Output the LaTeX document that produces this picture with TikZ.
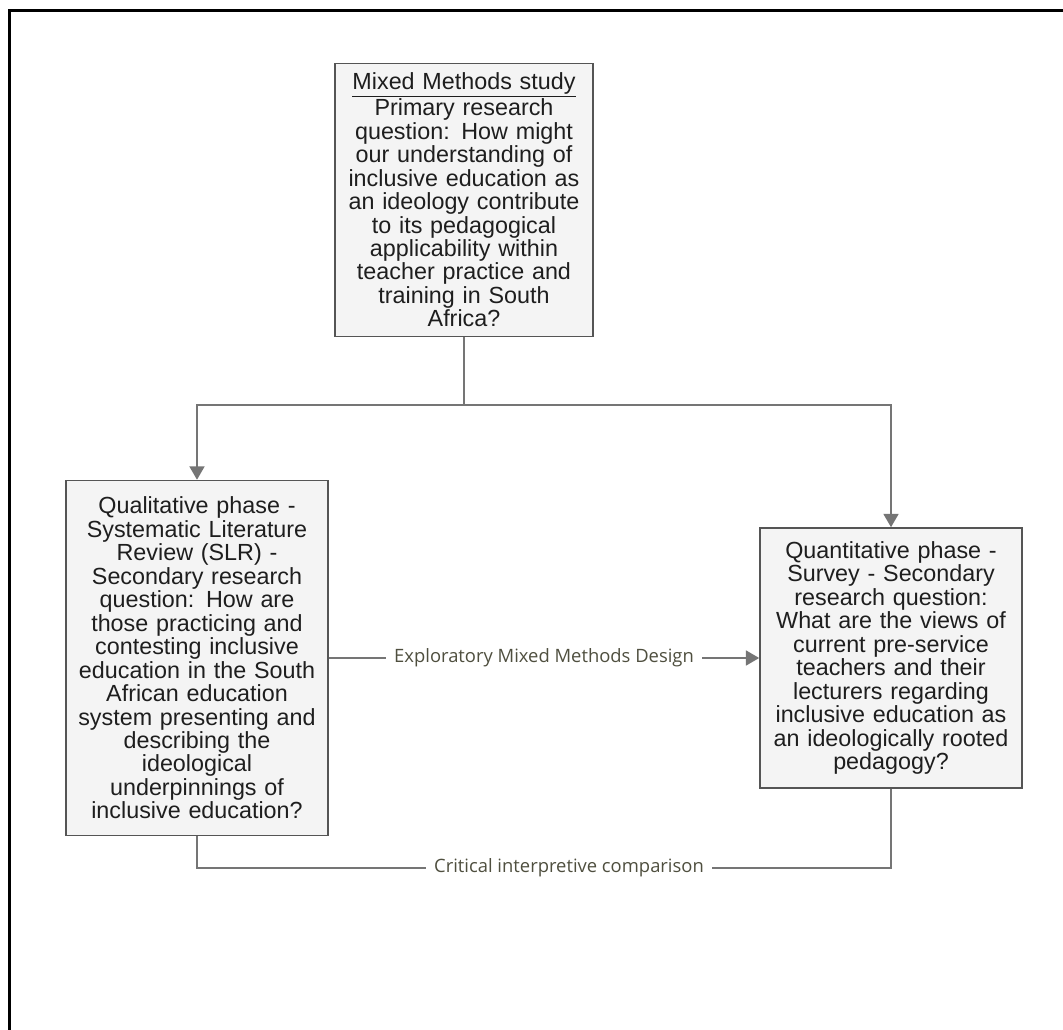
\documentclass[tikz,border=0pt]{standalone}
\usepackage{fontspec}
\setmainfont{Liberation Sans}
\newfontfamily\labelfont{Open Sans}
\usetikzlibrary{arrows.meta,positioning}
\definecolor{BoxFill}{HTML}{F4F4F4}
\definecolor{BoxLine}{HTML}{555555}
\definecolor{LinkGrey}{HTML}{757575}
\definecolor{LabelText}{HTML}{4F4F3F}
\definecolor{TextDark}{HTML}{1E1E1E}

\begin{document}
\begin{tikzpicture}[x=0.75pt,y=-0.75pt,text=TextDark,>=Triangle,
box/.style={draw=BoxLine,fill=BoxFill,line width=1.1pt,inner sep=0pt,align=center,font=\fontsize{17.5}{17.6}\selectfont},
link/.style={draw=LinkGrey,line width=1.9pt},
flow/.style={link,-{Triangle[width=11pt,length=10pt]}},
lbl/.style={fill=white,text=LabelText,inner xsep=6pt,inner ysep=1pt,font=\labelfont\fontsize{13.8}{15}\selectfont}]
\useasboundingbox (0,0) rectangle (1063,1030);
\fill[white] (0,0) rectangle (1063,1030);
\draw[black,line width=2.3pt] (9.5,1030) -- (9.5,10.5) -- (1063,10.5);
% boxes
\node[box,anchor=north,minimum width=193.5pt,text width=192pt,inner ysep=7pt] (study) at (464,63) {\underline{Mixed Methods study}\\Primary research\\question: How might\\our understanding of\\inclusive education as\\an ideology contribute\\to its pedagogical\\applicability within\\teacher practice and\\training in South\\Africa?};
\node[box,minimum width=196.5pt,minimum height=266.25pt,text width=195pt] (qual) at (197,658) {Qualitative phase -\\Systematic Literature\\Review (SLR) -\\Secondary research\\question: How are\\those practicing and\\contesting inclusive\\education in the South\\African education\\system presenting and\\describing the\\ideological\\underpinnings of\\inclusive education?};
\node[box,minimum width=196.5pt,minimum height=195pt,text width=195pt] (quant) at (891,658) {Quantitative phase -\\Survey - Secondary\\research question:\\What are the views of\\current pre-service\\teachers and their\\lecturers regarding\\inclusive education as\\an ideologically rooted\\pedagogy?};
% connectors
\coordinate (split) at (464,405);
\coordinate (join) at (544,868);
\draw[link] (study.south) -- (split);
\draw[flow] (split) -| (qual.north);
\draw[flow] (split) -| (quant.north);
\draw[flow] (qual.east) -- node[lbl]{Exploratory Mixed Methods Design} (quant.west);
\draw[link] (qual.south) |- (join) -| (quant.south);
\node[lbl] (critical) at (569,868) {Critical interpretive comparison};
\end{tikzpicture}
\end{document}
